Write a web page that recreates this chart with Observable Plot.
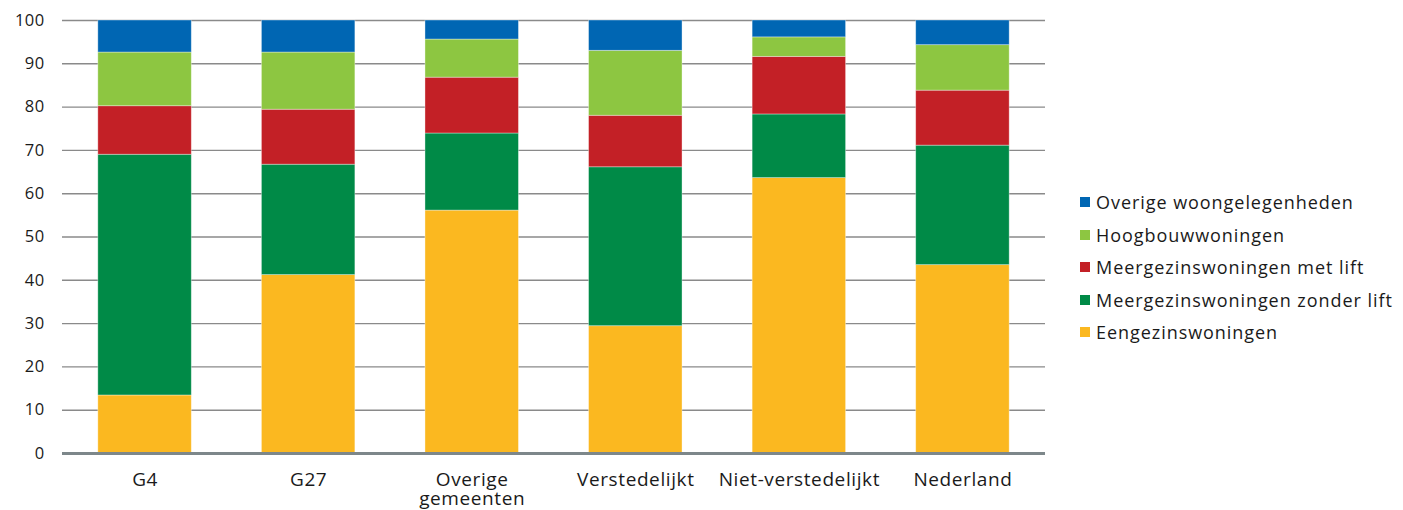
<!DOCTYPE html>
<html>
<head>
<meta charset="utf-8">
<script src="https://cdn.jsdelivr.net/npm/d3@7"></script>
<script src="https://cdn.jsdelivr.net/npm/@observablehq/plot@0.6"></script>
<style>
  body { margin: 0; background: #fff; font-family: "Open Sans", sans-serif; }
  #wrap { position: relative; width: 1403px; height: 510px; }
  #legend { position: absolute; left: 1080px; top: 186px; font-size: 18px; color: #1a1a1a; letter-spacing: 0.95px; }
  .row { height: 32.5px; display: flex; align-items: center; white-space: nowrap; }
  .sw { width: 10px; height: 10px; margin-right: 6px; flex: none; }
  #chart g[aria-label="x-axis tick label"] text { letter-spacing: 0.6px; }
  #chart g[aria-label="y-axis tick label"] text { letter-spacing: 0.4px; }
</style>
</head>
<body>
<div id="wrap"><div id="chart"></div><div id="legend"></div></div>
<script>
const categories = ["G4", "G27", "Overige gemeenten", "Verstedelijkt", "Niet-verstedelijkt", "Nederland"];
const seriesNames = ["Eengezinswoningen", "Meergezinswoningen zonder lift", "Meergezinswoningen met lift", "Hoogbouwwoningen", "Overige woongelegenheden"];
const eengezins   = [13.4, 41.2, 56.1, 29.4, 63.6, 43.5];
const zonderLift  = [55.6, 25.5, 17.8, 36.7, 14.7, 27.6];
const metLift     = [11.2, 12.7, 12.9, 11.9, 13.3, 12.7];
const hoogbouw    = [12.4, 13.2,  8.8, 15.0,  4.5, 10.5];
const overige     = [ 7.4,  7.4,  4.4,  7.0,  3.9,  5.7];
const colors = ["#FBB820", "#008A47", "#C32026", "#8DC641", "#0066B3"];
const yTicks = [0, 10, 20, 30, 40, 50, 60, 70, 80, 90, 100];

const seriesValues = [eengezins, zonderLift, metLift, hoogbouw, overige];
const data = [];
seriesNames.forEach((s, si) => categories.forEach((c, ci) => data.push({cat: c, type: s, value: seriesValues[si][ci]})));

const chart = Plot.plot({
  width: 1060, height: 510,
  marginLeft: 62, marginRight: 15, marginTop: 20, marginBottom: 57,
  style: {fontFamily: "Open Sans, sans-serif", fontSize: "16px", color: "#1a1a1a", background: "#fff"},
  x: {domain: categories, paddingInner: 0.4285, paddingOuter: 0.219, round: false, label: null},
  y: {domain: [0, 100], label: null},
  color: {domain: seriesNames, range: colors},
  marks: [
    Plot.gridY(yTicks, {stroke: "#8a8a8a", strokeOpacity: 1, strokeWidth: 1.4}),
    Plot.barY(data, {x: "cat", y: "value", fill: "type", stroke: "#ffffff", strokeOpacity: 0.45, strokeWidth: 0.8}),
    Plot.ruleY([0], {stroke: "#7d878a", strokeWidth: 3}),
    Plot.axisY(yTicks, {tickSize: 0, tickPadding: 18, fontSize: 16.5, label: null}),
    Plot.axisX({tickSize: 0, tickPadding: 19, fontSize: 19, label: null, lineHeight: 1.0,
      tickFormat: d => d === "Overige gemeenten" ? "Overige\ngemeenten" : d})
  ]
});
document.getElementById("chart").appendChild(chart);

const legend = document.getElementById("legend");
seriesNames.slice().reverse().forEach(name => {
  const i = seriesNames.indexOf(name);
  const row = document.createElement("div");
  row.className = "row";
  row.innerHTML = `<span class="sw" style="background:${colors[i]}"></span><span>${name}</span>`;
  legend.appendChild(row);
});
</script>
</body>
</html>
